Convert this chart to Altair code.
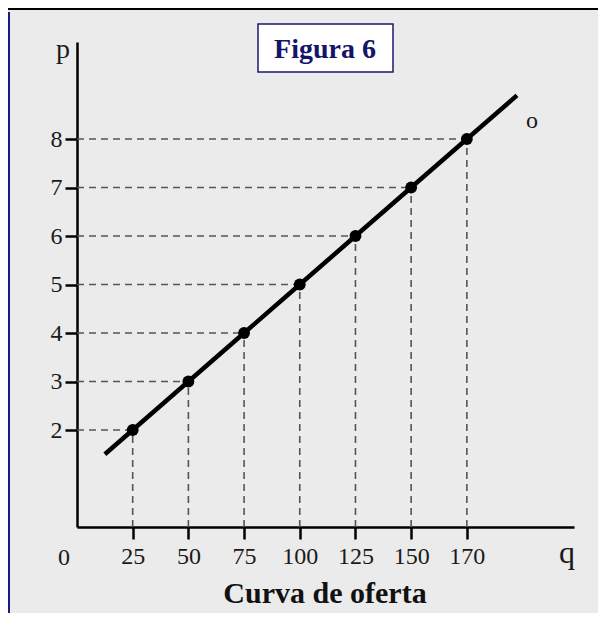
import altair as alt
import pandas as pd

# data
q_points = [25, 50, 75, 100, 125, 150, 170]
p_points = [2, 3, 4, 5, 6, 7, 8]
q_ticks = [25, 50, 75, 100, 125, 150, 170]
p_ticks = [2, 3, 4, 5, 6, 7, 8]
line_start = (12.5, 1.5)
line_end = (192.5, 8.9)

W, H = 497, 485
PAD_L, PAD_T, PAD_R, PAD_B = 69, 34, 24, 86
k = W / 223.1
x_scale = alt.Scale(domain=[0, 150, 170, 218.1], range=[0, 150 * k, 175 * k, W], nice=False, zero=False)
y_scale = alt.Scale(domain=[0, 10], nice=False)

pts = pd.DataFrame({"q": q_points, "p": p_points})
pts["q0"] = 0
pts["p0"] = 0
line_df = pd.DataFrame({
    "q": [line_start[0]] + q_points + [line_end[0]],
    "p": [line_start[1]] + p_points + [line_end[1]],
})

SERIF = "Liberation Serif"

xenc = lambda f: alt.X(f, type="quantitative", scale=x_scale,
                        axis=alt.Axis(values=q_ticks, title=None, grid=False, labelFlush=False,
                                      labelPadding=5))
yenc = lambda f: alt.Y(f, type="quantitative", scale=y_scale,
                        axis=alt.Axis(values=p_ticks, title=None, grid=False, labelPadding=3))

hdash = alt.Chart(pts).mark_rule(color="#555555", strokeWidth=1.6, strokeDash=[7, 5]).encode(
    x=xenc("q0"), x2="q", y=yenc("p"))
vdash = alt.Chart(pts).mark_rule(color="#555555", strokeWidth=1.6, strokeDash=[7, 5]).encode(
    x=xenc("q"), y=yenc("p0"), y2="p")
line = alt.Chart(line_df).mark_line(color="black", strokeWidth=4.5).encode(
    x=xenc("q"), y=yenc("p"))
dots = alt.Chart(pts).mark_circle(color="black", opacity=1, size=140).encode(
    x=xenc("q"), y=yenc("p"))

def txt(s, x, y, size, bold=False, color="#1a1a1a", baseline="alphabetic", align="center"):
    return alt.Chart(pd.DataFrame({"t": [s]})).mark_text(
        font=SERIF, fontSize=size, fontWeight="bold" if bold else "normal",
        color=color, baseline=baseline, align=align).encode(
        text="t:N", x=alt.value(x), y=alt.value(y))

box = alt.Chart(pd.DataFrame({"a": [0]})).mark_rect(
    fill="white", stroke="#1a1a6e", strokeWidth=1.5).encode(
    x=alt.value(181), x2=alt.value(316), y=alt.value(-18), y2=alt.value(30))

top_border = alt.Chart(pd.DataFrame({"a": [0]})).mark_rule(color="black", strokeWidth=2).encode(
    x=alt.value(-69), x2=alt.value(W + PAD_R), y=alt.value(-33))
left_border = alt.Chart(pd.DataFrame({"a": [0]})).mark_rule(color="#1a1a8c", strokeWidth=2).encode(
    x=alt.value(-68), y=alt.value(-30), y2=alt.value(H + PAD_B))

chart = alt.layer(
    top_border, left_border,
    hdash, vdash, line, dots,
    box,
    txt("Figura 6", 248, 16, 28, bold=True, color="#14146b"),
    txt("p", -14, 16, 28),
    txt("q", 490, 521, 32),
    txt("0", -13, 523, 24),
    txt("o", 455, 86, 24),
    txt("Curva de oferta", 248, 561, 30, bold=True, color="#111111"),
).properties(
    width=W, height=H,
    background="#ebebeb",
    padding={"left": PAD_L, "top": PAD_T, "right": PAD_R, "bottom": PAD_B},
    autosize=alt.AutoSizeParams(type="none"),
).configure_view(stroke=None).configure_axis(
    domainColor="black", domainWidth=2.5, tickColor="black", tickWidth=2.5,
    tickSize=12, labelFont=SERIF, labelFontSize=24, labelColor="#1a1a1a",
)

chart.save("out.html", embed_options={"renderer": "svg", "actions": False})
